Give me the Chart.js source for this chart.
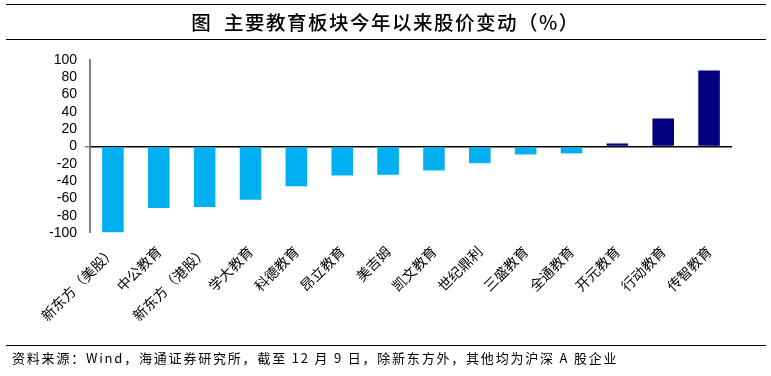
<!DOCTYPE html>
<html lang="zh">
<head>
  <meta charset="UTF-8" />
  <title>主要教育板块今年以来股价变动</title>
  <script src="https://cdn.jsdelivr.net/npm/chart.js"></script>
  <style>
    html,body{margin:0;padding:0;background:#fff;}
    #wrap{position:relative;width:771px;height:376px;overflow:hidden;}
    #chart{position:absolute;left:0;top:0;}
    .rule{position:absolute;left:6px;width:760px;height:0;border-top:1.5px solid #000;}
    #title{position:absolute;left:0;width:771px;top:7px;text-align:center;letter-spacing:1.5px;
      font-family:"Noto Sans CJK SC",sans-serif;font-size:19.5px;font-weight:500;color:#000;}
    #note{position:absolute;left:12px;top:348px;letter-spacing:1.8px;
      font-family:"Noto Sans CJK SC",sans-serif;font-size:13px;color:#000;}
  </style>
</head>
<body>
<div id="wrap">
  <canvas id="chart" width="771" height="376"></canvas>
  <div class="rule" style="top:4px"></div>
  <div id="title">图&nbsp;&nbsp;主要教育板块今年以来股价变动（%）</div>
  <div class="rule" style="top:39px"></div>
  <div class="rule" style="top:345px"></div>
  <div id="note">资料来源：Wind，海通证券研究所，截至 12 月 9 日，除新东方外，其他均为沪深 A 股企业</div>
</div>

<script>
/* ====== 数据 ====== */
const companies = ['新东方（美股）','中公教育','新东方（港股）','学大教育','科德教育','昂立教育','美吉姆',
                   '凯文教育','世纪鼎利','三盛教育','全通教育','开元教育','行动教育','传智教育'];
const changes   = [-99, -71, -70, -61.5, -46, -33.5, -32.7, -27.7, -19.3, -9.2, -8, 3.5, 32.4, 88];

/* ====== 画图 ====== */
new Chart(document.getElementById('chart'), {
  type: 'bar',
  data: {
    labels: companies,
    datasets: [{
      data: changes,
      backgroundColor: ctx => ctx.raw < 0 ? '#00B0F0' : '#000080',
      barPercentage: 0.47,
      categoryPercentage: 1
    }]
  },
  options: {
    responsive: false,
    animation: false,
    layout: { padding: { left: 0, right: 39, top: 60, bottom: 43 } },
    plugins: { legend: { display: false }, tooltip: { enabled: false } },
    scales: {
      x: {
        grid: { display: false },
        border: { display: false },
        ticks: {
          color: '#000', autoSkip: false, minRotation: 45, maxRotation: 45, padding: 2,
          font: { family: '"Noto Sans CJK SC", sans-serif', size: 14 }
        },
        afterFit: s => { s.height = 100; }
      },
      y: {
        min: -100, max: 100,
        grid: {
          color: c => c.tick && c.tick.value === 0 ? '#000' : 'transparent',
          lineWidth: c => c.tick && c.tick.value === 0 ? 1.5 : 0,
          tickColor: '#808080',
          tickLength: 5
        },
        border: { color: '#808080', width: 2 },
        ticks: {
          stepSize: 20, autoSkip: false,
          color: '#000', padding: 8,
          font: { family: '"Liberation Sans", Arial, sans-serif', size: 14 }
        },
        afterFit: s => { s.width = 90; }
      }
    }
  }
});
</script>
</body>
</html>
